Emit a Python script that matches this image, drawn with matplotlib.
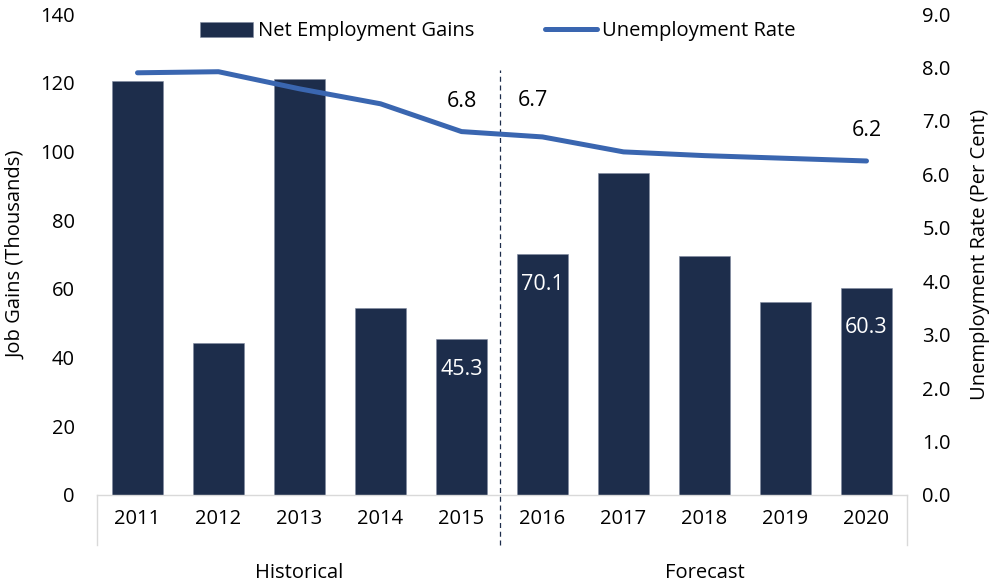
import numpy as np
import matplotlib
matplotlib.use("Agg")
import matplotlib.pyplot as plt
from matplotlib.lines import Line2D

plt.rcParams['font.family'] = ['Open Sans', 'DejaVu Sans']

# data
years = ['2011', '2012', '2013', '2014', '2015', '2016', '2017', '2018', '2019', '2020']
gains = [120.6, 44.3, 121.0, 54.5, 45.3, 70.1, 93.7, 69.6, 56.1, 60.3]
rate = [7.9, 7.92, 7.6, 7.32, 6.8, 6.7, 6.42, 6.35, 6.3, 6.25]
gain_labels = [4, 5, 9]   # bars with a value label
rate_labels = [4, 5, 9]   # line points with a value label
periods = ['Historical', 'Forecast']

bar_col = '#1d2d4b'
line_col = '#3a66b0'
grid_col = '#d9d9d9'
fs = 14.5

fig = plt.figure(figsize=(9.93, 5.85), dpi=100)
ax = fig.add_axes([97/993, 1-495/585, 810/993, 481/585])
x = np.arange(len(years))

ax.bar(x, gains, width=0.62, color=bar_col, edgecolor='#7f8aa0', linewidth=0.4,
       label='Net Employment Gains', zorder=2)
ax.set_xlim(-0.5, len(years)-0.5)
ax.set_ylim(0, 140)
ax.set_yticks(range(0, 141, 20))
ax.set_xticks(x)
ax.set_xticklabels(years)
ax.tick_params(axis='both', length=0, labelsize=fs)
ax.tick_params(axis='y', pad=16)
ax.tick_params(axis='x', pad=10)
ax.set_ylabel('Job Gains (Thousands)', fontsize=fs, labelpad=10)
for s in ax.spines.values():
    s.set_visible(False)

# category axis box
ax.add_line(Line2D([0, 1], [0, 0], transform=ax.transAxes, color=grid_col, lw=1, clip_on=False))
for xx in (0, 1):
    ax.add_line(Line2D([xx, xx], [0, -0.104], transform=ax.transAxes, color=grid_col,
                       lw=1, clip_on=False))

# historical / forecast split
ax.axvline(4.47, ymin=-0.104, ymax=0.884, color=bar_col, ls=(0, (4, 3)), lw=0.9,
           clip_on=False, zorder=3)
for i, p in enumerate(periods):
    ax.text(2 + 5*i, -0.162, p, transform=ax.get_xaxis_transform(), ha='center',
            va='center', fontsize=fs)

for i in gain_labels:
    off = -40 if i == 9 else -30
    ax.annotate(f'{gains[i]:.1f}', (x[i], gains[i]), xytext=(0, off), textcoords='offset pixels',
                ha='center', va='center', color='white', fontsize=15.5, zorder=4)

ax2 = ax.twinx()
ax2.plot(x, rate, color=line_col, lw=3.6, solid_capstyle='round', solid_joinstyle='round',
         label='Unemployment Rate', zorder=3)
ax2.set_ylim(0, 9)
ax2.set_yticks(np.arange(0, 9.1, 1))
ax2.set_yticklabels([f'{v:.1f}' for v in np.arange(0, 9.1, 1)])
ax2.tick_params(axis='y', length=0, labelsize=fs, pad=11)
ax2.set_ylabel('Unemployment Rate (Per Cent)', fontsize=fs, labelpad=14)
for s in ax2.spines.values():
    s.set_visible(False)

for i in rate_labels:
    dx = -10 if i == 5 else 0
    dy = 36 if i == 5 else 30
    ax2.annotate(f'{rate[i]:.1f}', (x[i], rate[i]), xytext=(dx, dy), textcoords='offset pixels',
                 ha='center', va='center', fontsize=15.5)

h1, l1 = ax.get_legend_handles_labels()
h2, l2 = ax2.get_legend_handles_labels()
ax2.legend(h1 + h2, l1 + l2, loc='center', bbox_to_anchor=(0.495, 0.964), ncol=2,
           frameon=False, fontsize=fs, handlelength=2.6, handleheight=0.8,
           handletextpad=0.25, columnspacing=3.5)

fig.savefig('out.png', dpi=100)
